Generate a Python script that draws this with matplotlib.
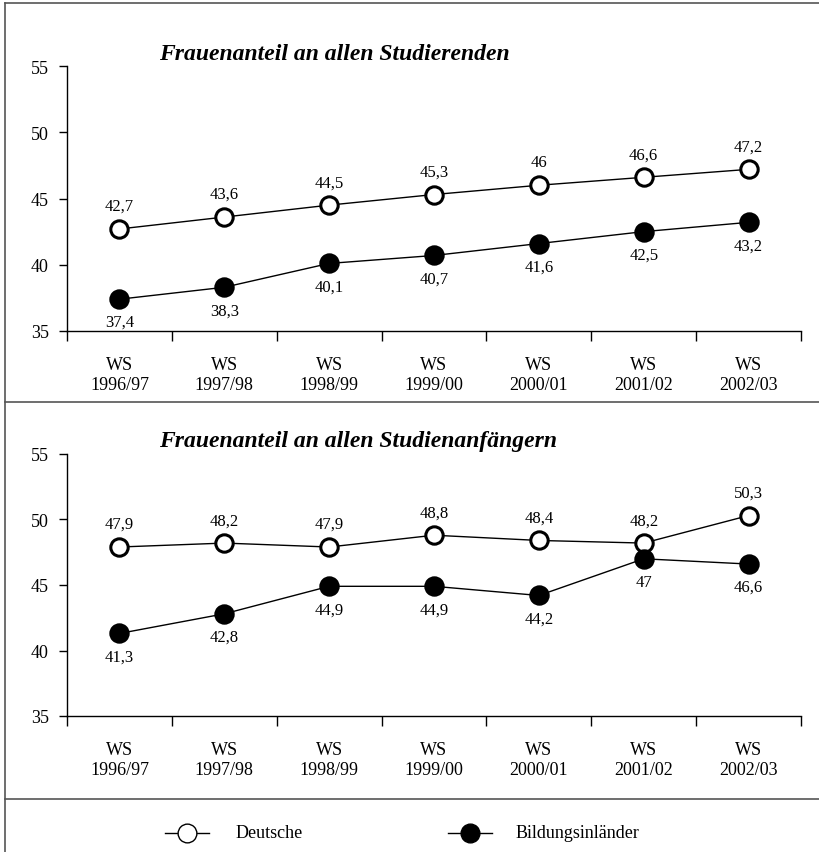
import matplotlib
matplotlib.use("Agg")
from matplotlib import pyplot as plt
from matplotlib.lines import Line2D

plt.rcParams["font.family"] = ["Liberation Serif", "DejaVu Serif"]

semester = ["WS\n1996/97", "WS\n1997/98", "WS\n1998/99", "WS\n1999/00",
            "WS\n2000/01", "WS\n2001/02", "WS\n2002/03"]

# Frauenanteil an allen Studierenden
stud_deutsche = [42.7, 43.6, 44.5, 45.3, 46.0, 46.6, 47.2]
stud_inlaender = [37.4, 38.3, 40.1, 40.7, 41.6, 42.5, 43.2]

# Frauenanteil an allen Studienanfängern
anf_deutsche = [47.9, 48.2, 47.9, 48.8, 48.4, 48.2, 50.3]
anf_inlaender = [41.3, 42.8, 44.9, 44.9, 44.2, 47.0, 46.6]

titles = ["Frauenanteil an allen Studierenden",
          "Frauenanteil an allen Studienanfängern"]
legend_names = ["Deutsche", "Bildungsinländer"]

W, H = 820, 853
fig = plt.figure(figsize=(W / 100, H / 100), dpi=100)


def fmt(v):
    s = ("%.1f" % v).replace(".", ",")
    return s[:-2] if s.endswith(",0") else s


def panel(top_px, bottom_px, deutsche, inlaender, title):
    ax = fig.add_axes([67 / W, 1 - bottom_px / H, (801 - 67) / W, (bottom_px - top_px) / H])
    x = list(range(len(semester)))
    ax.plot(x, deutsche, color="black", lw=1, marker="o", ms=12.5,
            mfc="white", mec="black", mew=2.2, zorder=3)
    ax.plot(x, inlaender, color="black", lw=1, marker="o", ms=12.5,
            mfc="black", mec="black", mew=2.2, zorder=3)
    for a, b in zip(x, deutsche):
        ax.annotate(fmt(b), (a, b), xytext=(0, 16.5), textcoords="offset points",
                    ha="center", va="center", fontsize=12)
    for a, b in zip(x, inlaender):
        ax.annotate(fmt(b), (a, b), xytext=(0, -16.5), textcoords="offset points",
                    ha="center", va="center", fontsize=12)
    ax.set_xlim(-0.5, len(semester) - 0.5)
    ax.set_ylim(35, 55)
    ax.set_yticks([35, 40, 45, 50, 55])
    ax.set_xticks([i - 0.5 for i in range(len(semester) + 1)], minor=False)
    ax.set_xticklabels([])
    ax.set_xticks(x, minor=True)
    ax.set_xticklabels(semester, minor=True, fontsize=13, linespacing=1.2)
    ax.tick_params(axis="x", which="major", direction="out", length=7, width=1)
    ax.tick_params(axis="x", which="minor", length=0, pad=18)
    ax.tick_params(axis="y", direction="out", length=6, width=1, labelsize=13, pad=7)
    for s in ["top", "right"]:
        ax.spines[s].set_visible(False)
    ax.spines["left"].set_linewidth(1)
    ax.spines["bottom"].set_linewidth(1)
    ax.patch.set_alpha(0)
    fig.text(159 / W, 1 - (top_px - 13) / H, title, fontsize=17,
             fontweight="bold", style="italic", ha="left", va="center")
    return ax


panel(67, 332, stud_deutsche, stud_inlaender, titles[0])
panel(455, 717, anf_deutsche, anf_inlaender, titles[1])

# frame lines
fc = "#555555"
fig.add_artist(Line2D([5 / W, 5 / W], [0, 1 - 4 / H], color=fc, lw=1.2))
fig.add_artist(Line2D([5 / W, 1], [1 - 4 / H, 1 - 4 / H], color=fc, lw=1.2))
for y in [403, 800]:
    fig.add_artist(Line2D([5 / W, 1], [1 - y / H, 1 - y / H], color=fc, lw=1.2))

# legend
ly = 1 - 834 / H
for xc, xt, face, name in [(187, 236, "white", legend_names[0]),
                           (470, 516, "black", legend_names[1])]:
    fig.add_artist(Line2D([(xc - 22) / W, (xc + 22) / W], [ly, ly], color="black", lw=1))
    fig.add_artist(Line2D([xc / W], [ly], marker="o", ms=13.5, mfc=face, mec="black", mew=1))
    fig.text(xt / W, ly, name, fontsize=13, ha="left", va="center")

fig.savefig("out.png", dpi=100)
